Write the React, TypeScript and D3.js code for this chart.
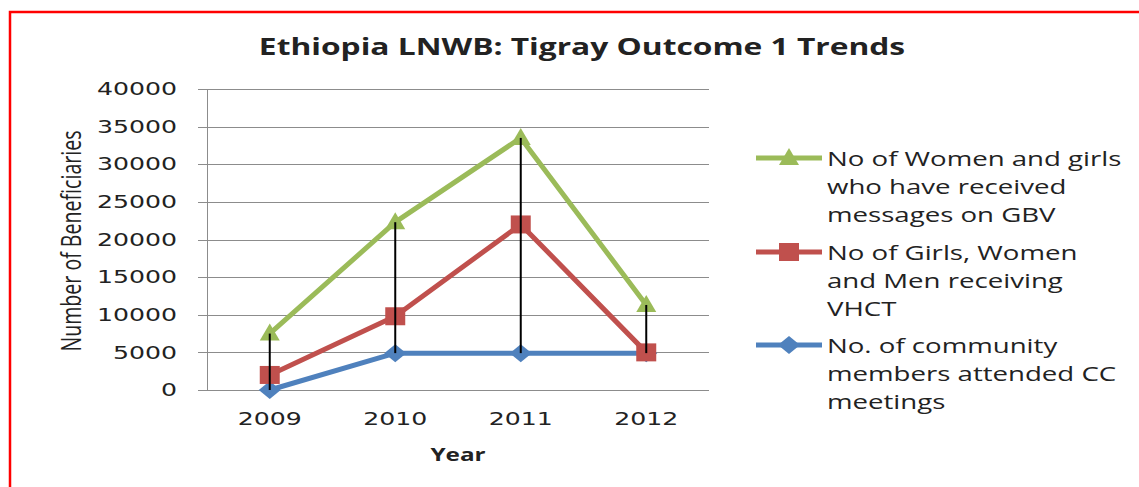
import React, { useEffect, useRef } from 'react'
import * as d3 from 'd3'

const years = ['2009', '2010', '2011', '2012']
const gbvMessages = [7500, 22300, 33500, 11300]
const vhctReceiving = [2000, 9800, 22000, 5000]
const ccAttendance = [0, 4900, 4900, 4900]
const yTicks = [0, 5000, 10000, 15000, 20000, 25000, 30000, 35000, 40000]

const series = [
	{ name: 'cc', values: ccAttendance, color: '#4F81BD', marker: 'diamond',
		label: ['No. of community', 'members attended CC', 'meetings'] },
	{ name: 'vhct', values: vhctReceiving, color: '#C0504D', marker: 'square',
		label: ['No of Girls, Women', 'and Men receiving', 'VHCT'] },
	{ name: 'gbv', values: gbvMessages, color: '#9BBB59', marker: 'triangle',
		label: ['No of Women and girls', 'who have received', 'messages on GBV'] },
]

const W = 1139
const H = 487
const SANS = '"Open Sans", "DejaVu Sans", sans-serif'

function App() {
	const svgRef = useRef<SVGSVGElement>(null)

	useEffect(() => {
		const svg = d3.select(svgRef.current)
		svg.selectAll('*').remove()

		const left = 207, right = 709, top = 89, bottom = 390
		const x = d3.scalePoint().domain(years).range([left, right]).padding(0.5)
		const y = d3.scaleLinear().domain([0, 40000]).range([bottom, top])

		// red frame, open to the right and bottom
		svg.append('path')
			.attr('d', `M10,${H + 10} L10,12 L${W + 10},12`)
			.attr('fill', 'none').attr('stroke', '#FF0000').attr('stroke-width', 2.5)

		const label = (txt: string, tx: number, ty: number, size: number, opts: any = {}) => {
			const t = svg.append('text')
				.attr('transform', `translate(${tx},${ty}) ${opts.rotate ? 'rotate(-90) ' : ''}scale(${opts.sx || 1},${opts.sy || 1})`)
				.attr('font-family', opts.family || SANS)
				.attr('font-size', size)
				.attr('font-weight', opts.bold ? 'bold' : 'normal')
				.attr('text-anchor', opts.anchor || 'start')
				.attr('dominant-baseline', 'central')
				.attr('fill', '#222')
				.text(txt)
			return t
		}

		// title
		label('Ethiopia LNWB: Tigray Outcome 1 Trends', 582, 46, 23, { bold: true, anchor: 'middle', sx: 1.38 })

		// gridlines + y axis
		const grid = svg.append('g')
		grid.selectAll('line')
			.data(yTicks)
			.join('line')
			.attr('x1', left - 9).attr('x2', right)
			.attr('y1', d => Math.round(y(d)) + 0.5).attr('y2', d => Math.round(y(d)) + 0.5)
			.attr('stroke', '#8c8c8c').attr('stroke-width', 1)
		svg.append('line')
			.attr('x1', left + 0.5).attr('x2', left + 0.5)
			.attr('y1', top).attr('y2', bottom)
			.attr('stroke', '#8c8c8c')

		yTicks.forEach(v => {
			label(String(v), 177, y(v), 18, { family: '"DejaVu Sans", sans-serif', anchor: 'end', sx: 1.4 })
		})
		years.forEach(yr => {
			label(yr, x(yr) as number, 419, 18, { family: '"DejaVu Sans", sans-serif', anchor: 'middle', sx: 1.4 })
		})

		label('Year', 458, 454, 18, { bold: true, anchor: 'middle', sx: 1.35 })
		label('Number of Beneficiaries', 70, 241, 20, { rotate: true, anchor: 'middle', sx: 0.98, sy: 1.4 })

		const markerPath = (kind: string) => {
			if (kind === 'triangle') return 'M0,-10 L10,7 L-10,7 Z'
			if (kind === 'square') return 'M-10,-9 L10,-9 L10,9 L-10,9 Z'
			return 'M0,-9 L11,0 L0,9 L-11,0 Z'
		}

		const line = d3.line<number>()
			.x((d, i) => x(years[i]) as number)
			.y(d => y(d))

		series.forEach(s => {
			svg.append('path')
				.datum(s.values)
				.attr('d', line)
				.attr('fill', 'none')
				.attr('stroke', s.color)
				.attr('stroke-width', 5)
				.attr('stroke-linejoin', 'round')
			svg.append('g').selectAll('path')
				.data(s.values)
				.join('path')
				.attr('transform', (d, i) => `translate(${x(years[i])},${y(d)})`)
				.attr('d', markerPath(s.marker))
				.attr('fill', s.color)
		})

		// high-low lines
		years.forEach((yr, i) => {
			const vals = series.map(s => s.values[i])
			svg.append('line')
				.attr('x1', x(yr) as number).attr('x2', x(yr) as number)
				.attr('y1', y(d3.max(vals) as number)).attr('y2', y(d3.min(vals) as number))
				.attr('stroke', '#000').attr('stroke-width', 2)
		})

		// legend
		const legendTop = [345, 252, 158]
		series.forEach((s, k) => {
			const ly = legendTop[k]
			svg.append('line')
				.attr('x1', 756).attr('x2', 822)
				.attr('y1', ly).attr('y2', ly)
				.attr('stroke', s.color).attr('stroke-width', 5)
			svg.append('path')
				.attr('transform', `translate(789,${ly})`)
				.attr('d', markerPath(s.marker))
				.attr('fill', s.color)
			s.label.forEach((t, j) => {
				label(t, 827, ly + j * 28, 20, { sx: 1.38 })
			})
		})
	}, [])

	return (
		<svg ref={svgRef} width={W} height={H}
			style={{ position: 'absolute', left: 0, top: 0, background: '#fff' }} />
	)
}

export default App
